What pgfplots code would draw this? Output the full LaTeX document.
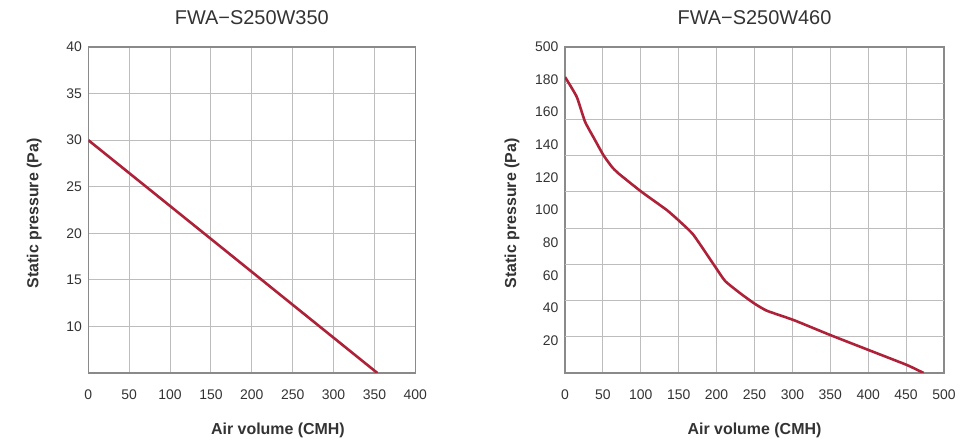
\documentclass[border=0pt]{standalone}
\usepackage{pgfplots}
\pgfplotsset{compat=1.18}
\usepackage{fontspec}
\setmainfont{Liberation Sans}
\definecolor{curve}{HTML}{AE2239}
\definecolor{gridc}{HTML}{BDBDBD}
\definecolor{framec}{HTML}{8A8A8A}
\definecolor{txt}{HTML}{333333}
\pgfplotsset{
  fwa/.style={
    scale only axis, anchor=south west, height=326bp,
    axis line style={framec, line width=1.4pt},
    grid style={gridc, line width=0.9pt},
    major tick length=0pt,
    tick label style={font=\fontsize{14}{14}\selectfont, text=txt},
    /pgf/number format/assume math mode=true,
    label style={font=\fontsize{16}{16}\selectfont\bfseries, text=txt},
    title style={font=\fontsize{20}{20}\selectfont, text=txt},
    xticklabel style={yshift=-13bp},
    yticklabel style={xshift=-3bp},
    ylabel style={at={(axis description cs:-0.165,0.49)}, anchor=center, rotate=0},
    title style={at={(axis description cs:0.5,1.073)}, anchor=center},
  }
}
\begin{document}
\begin{tikzpicture}
\useasboundingbox (0,0) rectangle (964bp,442bp);
\begin{axis}[fwa, at={(88.3bp,69bp)}, width=327bp,
  xmin=0, xmax=400, ymin=5, ymax=40,
  xtick={0,50,...,400}, ytick={10,15,...,40},
  grid=major,
  title={FWA\textminus S250W350},
  xlabel={Air volume (CMH)},
  ylabel={Static pressure (Pa)},
  xlabel style={at={(axis description cs:0.58,-0.175)}, anchor=center},
]
\addplot[curve, line width=2.6bp] coordinates {(0,30) (353.6,5)};
\end{axis}
\begin{axis}[fwa, at={(565bp,69bp)}, width=379bp,
  xmin=0, xmax=500, ymin=0, ymax=200,
  xtick={0,50,...,500}, xmajorgrids,
  ytick={20,40,...,200},
  yticklabels={20,40,60,80,100,120,140,160,180,500},
  extra y ticks={22.222,44.444,66.667,88.889,111.111,133.333,155.556,177.778},
  extra y tick labels={},
  extra y tick style={ymajorgrids=true, grid style={gridc, line width=0.9pt}},
  title={FWA\textminus S250W460},
  xlabel={Air volume (CMH)},
  ylabel={Static pressure (Pa)},
  ylabel style={at={(axis description cs:-0.14,0.49)}},
  xlabel style={at={(axis description cs:0.5,-0.175)}, anchor=center},
]
\addplot[curve, line width=2.6bp, smooth, tension=0.3] coordinates {
(0,181.6) (15.4,169.5) (26.4,154.2) (39.6,142.9) (50.6,133.7) (61.6,126.6)
(70.4,122.5) (100.8,111.2) (134.2,100.0) (151.8,92.8) (169.5,84.7)
(198.1,65.2) (211.3,56.4) (231.2,48.9) (249.6,42.7) (266.3,38.2)
(301.5,32.5) (349.9,23.3) (400.5,14.1) (451.1,4.9) (473.1,0)};
\end{axis}
\end{tikzpicture}
\end{document}
